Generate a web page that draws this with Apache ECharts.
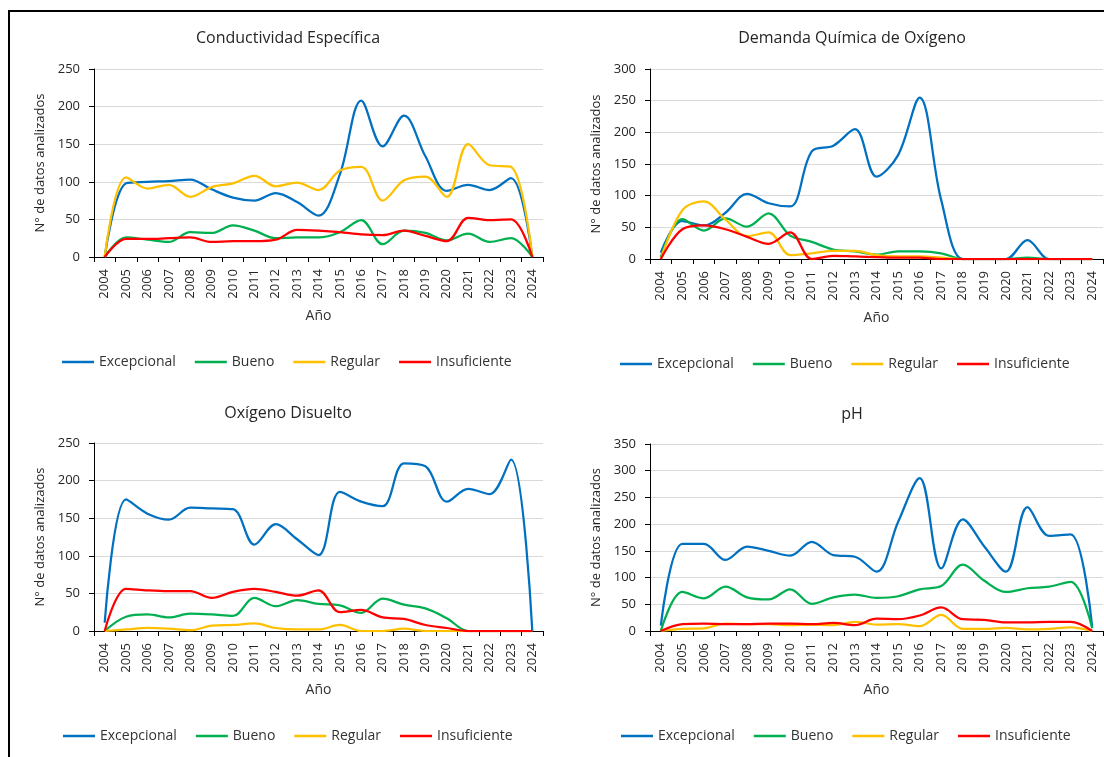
<!DOCTYPE html>
<html>
<head>
<meta charset="utf-8">
<script src="https://cdn.jsdelivr.net/npm/echarts@6/dist/echarts.min.js"></script>
<style>
html,body{margin:0;padding:0;background:#fff;}
#chart{width:1104px;height:757px;}
</style>
</head>
<body>
<div id="chart"></div>
<script>
const years = ['2004','2005','2006','2007','2008','2009','2010','2011','2012','2013','2014','2015','2016','2017','2018','2019','2020','2021','2022','2023','2024'];
const seriesNames = ['Excepcional','Bueno','Regular','Insuficiente'];
const seriesColors = ['#0070C0','#00B050','#FFC000','#FF0000'];
const panelTitles = ['Conductividad Específica','Demanda Química de Oxígeno','Oxígeno Disuelto','pH'];
const yMax = [250, 300, 250, 350];

// Conductividad Específica
const ceExcepcional = [0,98,100,101,103,90,79,75,85,73,55,110,208,147,188,134,88,96,89,105,0];
const ceBueno       = [0,26,23,20,33,32,42,35,25,26,26,33,49,17,35,32,22,31,20,25,0];
const ceRegular     = [0,106,91,96,80,93,98,108,94,99,89,115,120,75,102,107,80,150,122,120,0];
const ceInsuf       = [0,24,24,25,26,20,21,21,23,36,35,33,30,29,35,28,21,52,49,50,0];

// Demanda Química de Oxígeno
const dqoExcepcional = [10,60,53,73,103,88,83,170,179,205,130,164,255,93,0,0,0,30,0,0,0];
const dqoBueno       = [3,63,45,64,51,72,37,27,15,12,7,12,12,9,0,0,0,2,0,0,0];
const dqoRegular     = [0,77,91,62,36,42,6,9,13,13,6,4,4,2,0,0,0,0,0,0,0];
const dqoInsuf       = [0,47,53,47,35,24,42,0,5,4,3,2,2,0,0,0,0,0,0,0,0];

// Oxígeno Disuelto
const odExcepcional = [11,175,156,148,164,163,162,115,142,122,101,185,172,166,223,219,172,189,182,228,0];
const odBueno       = [0,19,22,18,23,22,20,44,33,41,36,34,24,43,35,30,17,0,0,0,0];
const odRegular     = [0,2,4,3,1,7,8,10,4,2,2,8,0,0,3,0,0,0,0,0,0];
const odInsuf       = [0,56,54,53,53,44,52,56,52,47,54,25,28,18,16,8,4,0,0,0,0];

// pH
const phExcepcional = [10,163,163,133,158,150,141,167,142,139,111,204,286,117,209,158,111,232,178,181,7];
const phBueno       = [0,73,61,83,63,59,78,51,63,68,62,65,78,84,124,94,73,80,83,92,5];
const phRegular     = [0,4,5,14,13,13,11,12,11,17,12,13,9,30,4,4,6,3,4,7,0];
const phInsuf       = [0,13,14,13,13,14,14,13,15,11,23,22,29,44,22,21,16,16,17,17,0];

const panelData = [
  [ceExcepcional, ceBueno, ceRegular, ceInsuf],
  [dqoExcepcional, dqoBueno, dqoRegular, dqoInsuf],
  [odExcepcional, odBueno, odRegular, odInsuf],
  [phExcepcional, phBueno, phRegular, phInsuf]
];

const FONT = '"Open Sans", "Noto Sans", sans-serif';
const grids = [
  {left: 94,  top: 69,  width: 449, height: 188},
  {left: 650, top: 69,  width: 453, height: 190},
  {left: 94,  top: 443, width: 449, height: 188},
  {left: 650, top: 444, width: 453, height: 187}
];
const titlePos = [
  {x: 283, y: 25}, {x: 847, y: 25}, {x: 283, y: 400}, {x: 847, y: 401}
];
const legendPos = [
  {x: 57, y: 350}, {x: 615, y: 352}, {x: 58, y: 724}, {x: 616, y: 724}
];

const option = {
  animation: false,
  backgroundColor: '#fff',
  textStyle: {fontFamily: FONT},
  graphic: [{
    type: 'rect',
    shape: {x: 9, y: 11, width: 1300, height: 900},
    style: {fill: 'none', stroke: '#000', lineWidth: 2},
    silent: true
  }],
  title: panelTitles.map((t, i) => ({
    text: t,
    left: titlePos[i].x,
    top: titlePos[i].y,
    textAlign: 'center',
    textStyle: {fontFamily: FONT, fontSize: 16, fontWeight: 'normal', color: '#262626'}
  })),
  legend: legendPos.map(p => ({
    data: seriesNames,
    left: p.x,
    top: p.y,
    orient: 'horizontal',
    icon: 'rect',
    itemWidth: 32,
    itemHeight: 2.5,
    itemGap: 19,
    textStyle: {fontFamily: FONT, fontSize: 14, color: '#333'}
  })),
  grid: grids,
  xAxis: grids.map((g, i) => ({
    type: 'category',
    gridIndex: i,
    data: years,
    boundaryGap: true,
    name: 'Año',
    nameLocation: 'middle',
    nameGap: 52,
    nameTextStyle: {fontFamily: FONT, fontSize: 14, color: '#333'},
    axisLine: {show: true, lineStyle: {color: '#000', width: 1}},
    axisTick: {show: true, length: 5, interval: 0, alignWithLabel: false, lineStyle: {color: '#000'}},
    axisLabel: {interval: 0, rotate: 90, margin: 12, fontFamily: FONT, fontSize: 13, color: '#262626'},
    splitLine: {show: false}
  })),
  yAxis: grids.map((g, i) => ({
    type: 'value',
    gridIndex: i,
    min: 0,
    max: yMax[i],
    interval: 50,
    name: 'N° de datos analizados',
    nameLocation: 'middle',
    nameGap: 47,
    nameRotate: 90,
    nameTextStyle: {fontFamily: FONT, fontSize: 13, color: '#262626'},
    axisLine: {show: true, lineStyle: {color: '#000', width: 1}},
    axisTick: {show: true, length: 5, inside: false, lineStyle: {color: '#000'}},
    axisLabel: {margin: 14, fontFamily: FONT, fontSize: 13, color: '#262626'},
    splitLine: {show: true, lineStyle: {color: '#D9D9D9', width: 1}}
  })),
  series: []
};

panelData.forEach((arrs, p) => {
  arrs.forEach((vals, s) => {
    option.series.push({
      type: 'line',
      name: seriesNames[s],
      xAxisIndex: p,
      yAxisIndex: p,
      data: vals,
      smooth: 0.35,
      symbol: 'none',
      lineStyle: {color: seriesColors[s], width: 2.25},
      itemStyle: {color: seriesColors[s]}
    });
  });
});

const chart = echarts.init(document.getElementById('chart'), null, {renderer: 'canvas'});
chart.setOption(option);
</script>
</body>
</html>
